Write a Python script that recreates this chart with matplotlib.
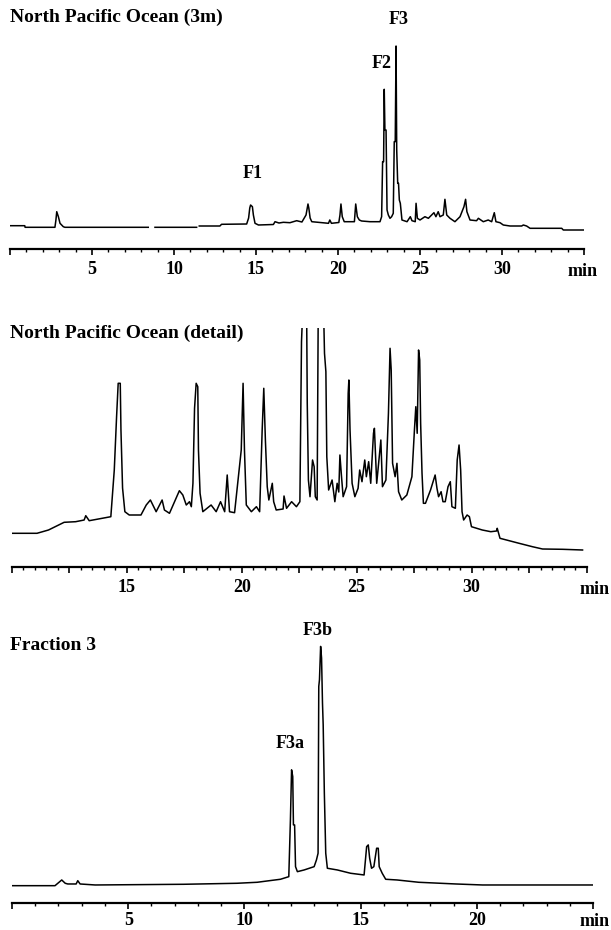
import numpy as np
import matplotlib
matplotlib.use("Agg")
import matplotlib.pyplot as plt
from matplotlib.ticker import MultipleLocator, FuncFormatter

# ---------------- data ----------------
# Panel 1: North Pacific Ocean (3m) — retention time (min) / detector response
p1_time = [0.00, 0.90, 0.92, 2.74, 2.80, 2.85, 2.95, 3.05, 3.25, 3.35, 8.43, np.nan,
           8.84, 11.38, np.nan, 11.54, 12.80, 12.90, 14.43, 14.55, 14.62, 14.67, 14.78,
           14.84, 14.94, 15.15, 16.06, 16.16, 16.40, 16.67, 17.07, 17.48, 17.80, 18.05,
           18.17, 18.22, 18.30, 18.40, 19.42, 19.50, 19.60, 20.05, 20.12, 20.18, 20.26,
           20.38, 21.00, 21.08, 21.18, 21.30, 21.44, 21.95, 22.56, 22.66, 22.72, 22.78,
           22.82, 22.86, 22.93, 22.99, 23.07, 23.17, 23.27, 23.37, 23.43, 23.49, 23.54,
           23.58, 23.64, 23.69, 23.74, 23.80, 23.90, 24.21, 24.41, 24.51, 24.71, 24.76,
           24.84, 25.00, 25.30, 25.51, 25.71, 25.85, 25.97, 26.11, 26.22, 26.42, 26.52,
           26.63, 26.83, 27.13, 27.44, 27.60, 27.68, 27.78, 27.86, 28.05, 28.45, 28.56,
           28.86, 29.16, 29.37, 29.53, 29.63, 29.88, 30.08, 30.49, 31.20, 31.30, 31.50,
           31.71, 33.64, 33.74, 34.96]
p1_resp = [23.3, 23.3, 21.7, 21.7, 29.0, 37.3, 32.3, 25.7, 22.3, 21.7, 21.7, np.nan,
           21.7, 21.7, np.nan, 23.0, 23.0, 24.7, 25.0, 31.0, 41.0, 44.0, 42.3,
           34.0, 25.7, 24.0, 24.5, 27.3, 26.0, 26.7, 26.3, 28.3, 27.0, 34.0,
           45.0, 41.0, 31.0, 27.3, 25.7, 29.0, 25.7, 26.5, 34.0, 45.0, 32.3,
           27.3, 27.3, 45.0, 32.3, 29.0, 28.0, 27.3, 27.3, 32.3, 87.3, 87.3,
           159.7, 119.0, 119.0, 39.0, 34.0, 30.7, 32.3, 35.7, 107.3, 107.3, 203.0,
           99.0, 65.7, 65.7, 49.0, 45.7, 29.0, 27.3, 32.3, 28.3, 27.3, 45.7,
           30.7, 29.0, 32.3, 30.7, 34.0, 36.3, 32.3, 37.3, 32.3, 34.0, 49.7,
           34.0, 30.7, 27.3, 32.3, 39.0, 42.3, 49.7, 37.3, 29.0, 28.3, 30.7,
           27.3, 29.0, 27.3, 36.3, 27.3, 26.3, 24.0, 23.0, 23.0, 24.0, 23.0,
           20.7, 20.7, 19.0, 19.0]

# Panel 2: North Pacific Ocean (detail)
p2_time = [10.00, 11.10, 11.60, 12.28, 12.78, 13.15, 13.22, 13.37, 14.31, 14.46, 14.56,
           14.63, 14.72, 14.75, 14.82, 14.92, 15.11, 15.62, 15.85, 16.03, 16.28, 16.54,
           16.64, 16.86, 17.29, 17.44, 17.59, 17.73, 17.81, 17.88, 17.95, 18.02, 18.09,
           18.12, 18.19, 18.31, 18.67, 18.89, 19.08, 19.26, 19.37, 19.47, 19.69, 19.98,
           20.06, 20.12, 20.20, 20.42, 20.64, 20.78, 20.89, 20.96, 21.03, 21.11, 21.18,
           21.33, 21.39, 21.50, 21.80, 21.84, 21.95, 22.17, 22.38, 22.53, 22.60, 22.67,
           22.82, 22.85, 22.90, 22.97, 23.08, 23.15, 23.20, 23.28, 23.33, 23.55, 23.60,
           23.66, 23.70, 23.78, 23.93, 24.05, 24.15, 24.22, 24.27, 24.34, 24.41, 24.56,
           24.63, 24.66, 24.71, 24.80, 24.92, 25.06, 25.13, 25.23, 25.35, 25.42, 25.52,
           25.61, 25.73, 25.77, 25.87, 25.98, 26.05, 26.12, 26.27, 26.38, 26.45, 26.50,
           26.56, 26.67, 26.75, 26.82, 26.96, 27.18, 27.40, 27.51, 27.57, 27.63, 27.69,
           27.74, 27.78, 27.84, 27.90, 27.99, 28.21, 28.34, 28.41, 28.49, 28.56, 28.67,
           28.75, 28.85, 28.97, 29.07, 29.14, 29.29, 29.37, 29.45, 29.52, 29.58, 29.65,
           29.80, 29.90, 29.99, 30.46, 30.83, 31.08, 31.11, 31.23, 31.62, 32.06, 32.64,
           33.08, 33.95, 34.82]
p2_resp = [33.7, 33.7, 37.0, 44.7, 45.3, 47.0, 51.3, 46.3, 50.3, 97.0, 150.3,
           183.7, 183.7, 137.0, 79.0, 55.3, 52.0, 52.0, 62.0, 67.0, 55.3, 67.0,
           57.0, 53.7, 76.3, 72.0, 62.0, 65.3, 60.3, 83.7, 158.7, 183.7, 180.3,
           117.0, 73.7, 55.3, 62.0, 55.3, 65.3, 55.3, 92.0, 55.3, 54.3, 117.0,
           183.7, 117.0, 62.0, 55.3, 60.3, 55.3, 137.0, 178.7, 127.0, 80.3, 67.0,
           83.7, 65.3, 57.0, 58.0, 71.0, 58.7, 65.3, 60.3, 65.3, 225.3, 267.0,
           267.0, 164.0, 87.0, 70.3, 107.0, 100.3, 70.3, 67.0, 267.0, 267.0, 213.7,
           195.3, 110.3, 77.0, 87.0, 65.3, 83.7, 75.0, 112.0, 90.3, 70.3, 80.3,
           173.7, 187.0, 137.0, 83.7, 70.3, 78.7, 97.0, 85.3, 107.0, 90.3, 105.3,
           83.7, 133.7, 138.7, 83.7, 110.3, 127.0, 80.3, 87.0, 153.7, 218.7, 197.0,
           103.7, 90.3, 103.7, 75.3, 67.0, 72.0, 90.3, 137.0, 160.3, 133.7, 217.0,
           207.0, 143.7, 93.7, 63.7, 63.7, 77.0, 87.0, 92.0, 78.7, 70.3, 75.3,
           65.3, 65.3, 80.3, 85.3, 60.3, 58.7, 107.0, 122.0, 97.0, 55.3, 47.0,
           52.0, 50.3, 40.3, 37.0, 35.3, 36.0, 38.7, 28.7, 26.3, 23.7, 20.3,
           18.0, 17.7, 17.0]

# Panel 3: Fraction 3
p3_time = [0.00, 1.85, 2.14, 2.29, 2.40, 2.76, 2.83, 2.93, 3.58, 7.39, 9.68, 10.55,
           10.98, 11.55, 11.91, 11.98, 12.03, 12.08, 12.11, 12.16, 12.20, 12.28, 12.57,
           13.00, 13.10, 13.17, 13.20, 13.23, 13.28, 13.32, 13.36, 13.39, 13.44, 13.50,
           13.57, 14.00, 14.57, 15.15, 15.26, 15.33, 15.39, 15.47, 15.57, 15.69, 15.76,
           15.80, 15.93, 16.08, 16.57, 17.50, 19.10, 20.25, 25.00]
p3_resp = [17.6, 17.6, 23.3, 20.0, 19.3, 19.3, 22.6, 19.3, 18.3, 19.0, 20.0, 21.0,
           22.3, 24.0, 26.6, 83.3, 133.3, 126.6, 78.3, 78.3, 36.6, 31.6, 33.3,
           36.6, 43.3, 50.0, 216.6, 223.3, 256.6, 245.0, 200.0, 178.3, 110.0, 50.0,
           35.0, 33.3, 30.0, 28.3, 56.6, 58.3, 45.0, 35.0, 36.6, 55.0, 55.0,
           36.6, 30.0, 24.0, 23.3, 21.0, 19.3, 18.3, 18.3]

titles = ["North Pacific Ocean (3m)", "North Pacific Ocean (detail)", "Fraction 3"]
p1_labels = ["F1", "F2", "F3"]
p1_label_time = [14.82, 22.68, 23.72]
p1_label_resp = [76, 185, 230]
p3_labels = ["F3a", "F3b"]
p3_label_time = [11.96, 13.17]
p3_label_resp = [160, 272]
p1_ticklabels = [5, 10, 15, 20, 25, 30]
p2_ticklabels = [15, 20, 25, 30]
p3_ticklabels = [5, 10, 15, 20]

# ---------------- drawing ----------------
W, H = 611, 930
fig = plt.figure(figsize=(W / 100, H / 100), dpi=100)
FONT = dict(family="Liberation Serif", weight="bold")


def px_axes(left, bottom_from_top, right, top_from_top):
    return fig.add_axes([left / W, (H - bottom_from_top) / H,
                         (right - left) / W, (bottom_from_top - top_from_top) / H])


def style(ax, xlim, ylim, major, minor, labels, min_dx, pad, min_dy):
    ax.set_xlim(*xlim)
    ax.set_ylim(*ylim)
    for s in ("left", "right", "top"):
        ax.spines[s].set_visible(False)
    ax.spines["bottom"].set_linewidth(1.6)
    ax.set_yticks([])
    ax.xaxis.set_major_locator(MultipleLocator(major))
    ax.xaxis.set_minor_locator(MultipleLocator(minor))
    ax.xaxis.set_major_formatter(
        FuncFormatter(lambda v, p: f"{v:g}" if any(abs(v - l) < 1e-6 for l in labels) else ""))
    ax.tick_params(axis="x", which="major", direction="out", length=4.0, width=1.2, pad=pad)
    ax.tick_params(axis="x", which="minor", direction="out", length=2.4, width=1.0)
    for t in ax.get_xticklabels():
        t.set_fontfamily("Liberation Serif")
        t.set_fontweight("bold")
        t.set_fontsize(13)
    ax.annotate("min", xy=(xlim[1], 0), xycoords=("data", "axes fraction"),
                xytext=(min_dx, min_dy), textcoords="offset points",
                ha="center", va="center", fontsize=13, annotation_clip=False, **FONT)
    ax.patch.set_alpha(0)


ax1 = px_axes(10, 249, 584, 40)
ax1.plot(p1_time, p1_resp, color="black", lw=1.1)
style(ax1, (0, 35), (0, 209), 5, 1, p1_ticklabels, -1, 5, -16)
for lab, t, r in zip(p1_labels, p1_label_time, p1_label_resp):
    ax1.text(t, r, lab, ha="center", va="center", fontsize=13, **FONT)

ax2 = px_axes(11.7, 567, 586.7, 328)
ax2.plot(p2_time, p2_resp, color="black", lw=1.1)
style(ax2, (10, 35), (0, 239), 2.5, 0.5, p2_ticklabels, 6, 5, -16)

ax3 = px_axes(12, 903.3, 593, 640)
ax3.plot(p3_time, p3_resp, color="black", lw=1.1)
style(ax3, (0, 25), (0, 263), 5, 1, p3_ticklabels, 1, 2.5, -13)
for lab, t, r in zip(p3_labels, p3_label_time, p3_label_resp):
    ax3.text(t, r, lab, ha="center", va="center", fontsize=13, **FONT)

title_y = [17, 333, 646]
for txt, y in zip(titles, title_y):
    fig.text(10 / W, 1 - y / H, txt, ha="left", va="center", fontsize=14, **FONT)

fig.savefig("out.png", dpi=100)
